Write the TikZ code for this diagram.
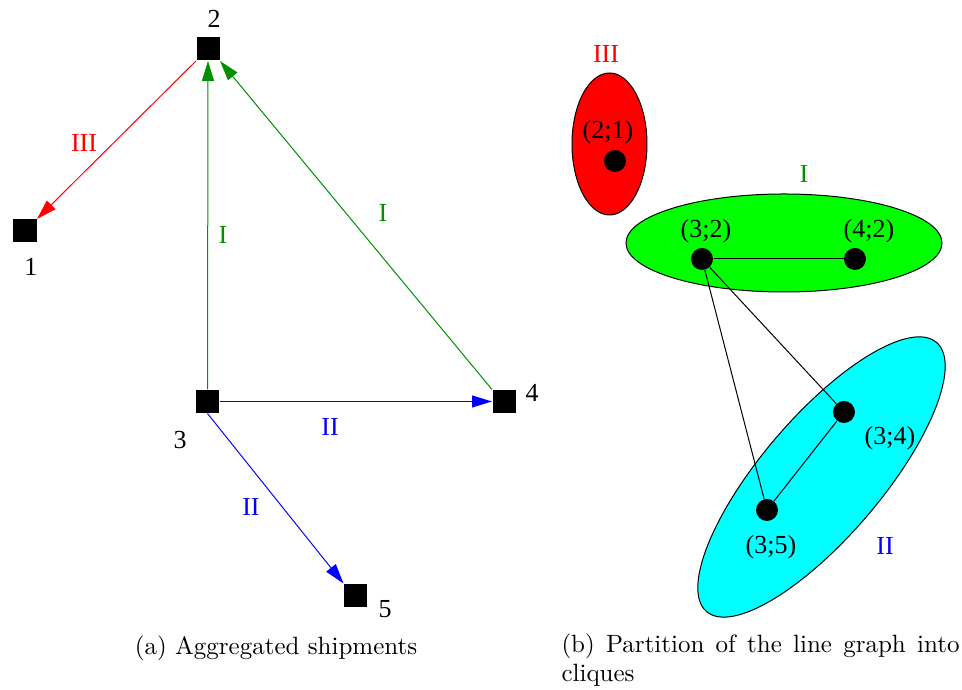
\documentclass[tikz,border=0pt]{standalone}
\usepackage{fontspec}
\newfontfamily\timesf{Liberation Serif}
\usetikzlibrary{arrows.meta,shapes.geometric}
\definecolor{xgreen}{RGB}{0,144,0}
\definecolor{xred}{RGB}{255,0,0}
\definecolor{xlime}{RGB}{0,255,0}
\definecolor{xcyan}{RGB}{0,255,255}
\definecolor{xblue}{RGB}{0,0,255}
\begin{document}
\begin{tikzpicture}[x=0.4pt,y=-0.4pt,
  site/.style={rectangle,fill=black,minimum size=9.2pt,inner sep=0pt},
  vtx/.style={circle,fill=black,minimum size=8.8pt,inner sep=0pt},
  lbl/.style={font=\timesf\fontsize{10.4}{12}\selectfont,inner sep=0pt},
  flow/.style={line width=0.4pt,-{Triangle[length=8pt,width=4.8pt]}},
  link/.style={line width=0.4pt},
  clique/.style={ellipse,draw=black,line width=0.4pt,inner sep=0pt},
  capt/.style={font=\fontsize{10}{12}\selectfont,inner sep=0pt}]
\useasboundingbox (0,0) rectangle (962,690);

% ---------- (a) aggregated shipments ----------
\node[site] (n1) at (25,231) {};
\node[site] (n2) at (208,49) {};
\node[site] (n3) at (207.5,401.5) {};
\node[site] (n4) at (504,401.5) {};
\node[site] (n5) at (355.5,595.5) {};

\node[lbl] (t1) at (31,267) {1};
\node[lbl] (t2) at (214,19) {2};
\node[lbl] (t3) at (180,440) {3};
\node[lbl] (t4) at (532,393) {4};
\node[lbl] (t5) at (385,609) {5};

\draw[flow,xred] (n2.south west) -- (n1.north east);
\draw[flow,xgreen] (n3.north) -- (n2.south);
\draw[flow,xgreen] (n4.north west) -- (n2.south east);
\draw[flow,xblue] (n3.east) -- (n4.west);
\draw[flow,xblue] (n3.south) -- (n5.north west);

\node[lbl,xred] (e21) at (84,143) {III};
\node[lbl,xgreen] (e32) at (223,235) {I};
\node[lbl,xgreen] (e42) at (383,213) {I};
\node[lbl,xblue] (e34) at (330,427) {II};
\node[lbl,xblue] (e35) at (251,507) {II};

\node[capt,anchor=base] (capa) at (276,655) {(a) Aggregated shipments};

% ---------- (b) cliques of the line graph ----------
\node[clique,fill=xred,minimum width=30pt,minimum height=56.8pt] (cIII) at (609.5,144) {};
\node[clique,fill=xlime,minimum width=126.4pt,minimum height=39.2pt] (cI) at (784,243) {};
\node[clique,fill=xcyan,minimum width=141.6pt,minimum height=48pt,rotate=49.5] (cII) at (821.5,477) {};

\node[lbl,xred] (kIII) at (606,54) {III};
\node[lbl,xgreen] (kI) at (804,174) {I};
\node[lbl,xblue] (kII) at (885,546) {II};

\node[vtx] (d21) at (615,161) {};
\node[vtx] (d32) at (702,259) {};
\node[vtx] (d42) at (855,259) {};
\node[vtx] (d34) at (844,412) {};
\node[vtx] (d35) at (767,510) {};

\draw[link] (d32) -- (d42);
\draw[link] (d32) -- (d34);
\draw[link] (d32) -- (d35);
\draw[link] (d34) -- (d35);

\node[lbl] (v21) at (608,132) {(2;1)};
\node[lbl] (v32) at (706,231) {(3;2)};
\node[lbl] (v42) at (869,231) {(4;2)};
\node[lbl] (v34) at (890,438) {(3;4)};
\node[lbl] (v35) at (771,547) {(3;5)};

\node[capt,anchor=base west] (capb) at (561,653) {\makebox[159.2pt][s]{(b) Partition of the line graph into}};
\node[capt,anchor=base west] (capb2) at (561,682) {cliques};
\end{tikzpicture}
\end{document}
